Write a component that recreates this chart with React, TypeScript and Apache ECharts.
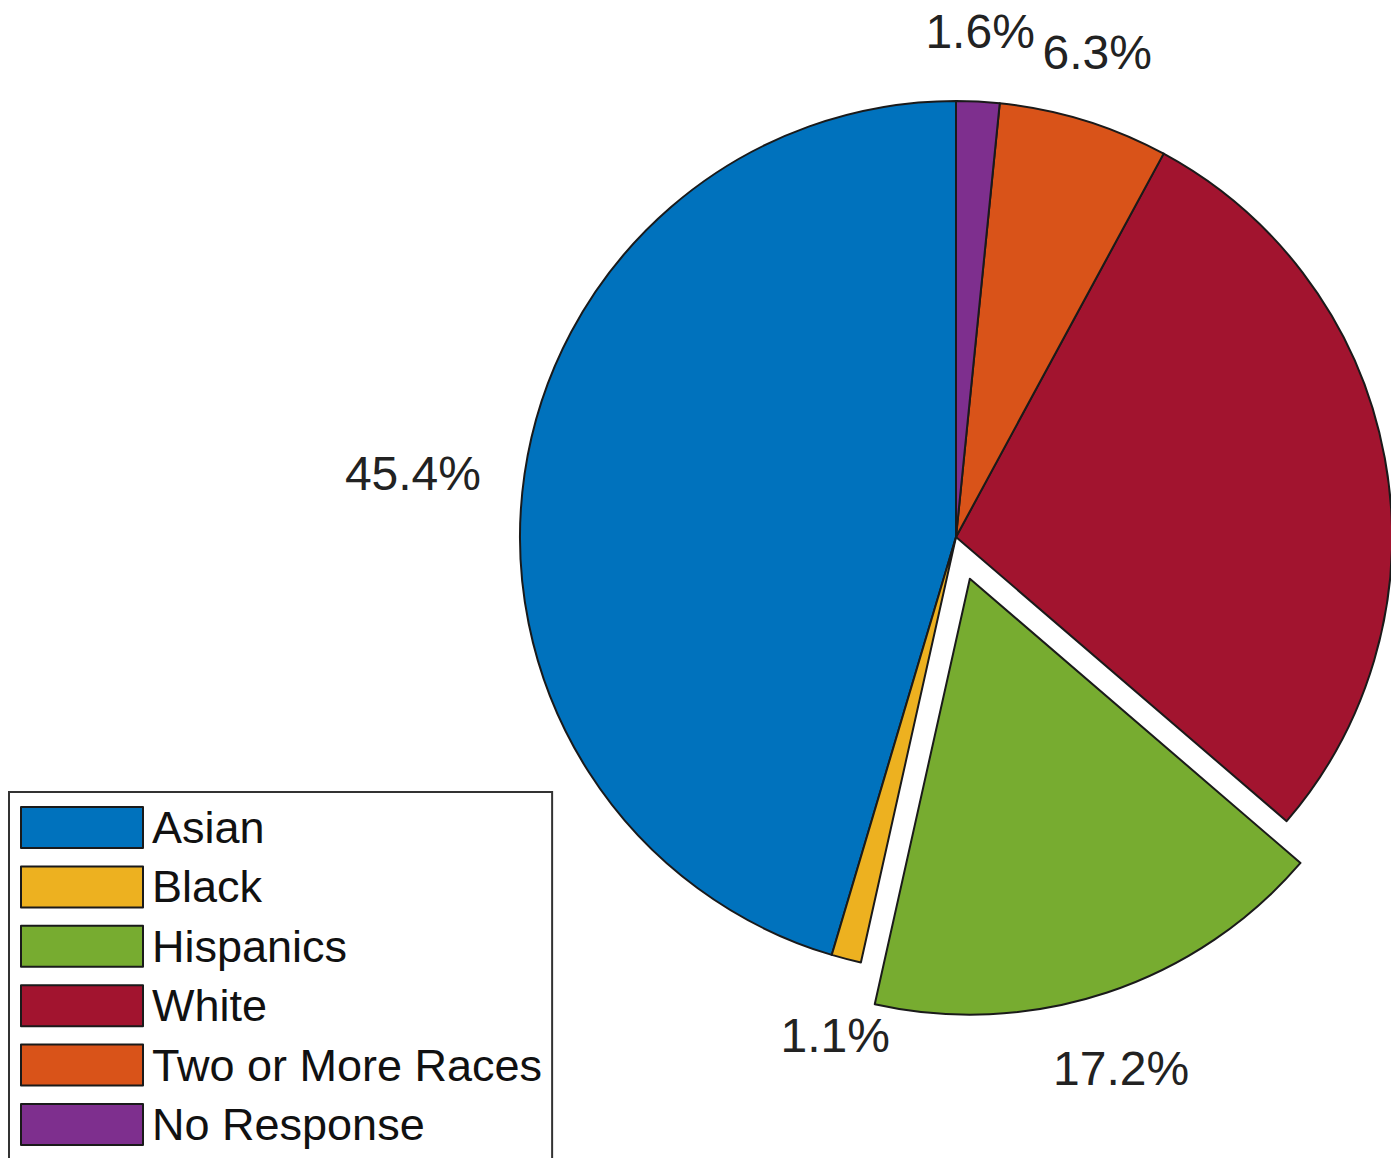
import { useEffect, useRef } from 'react';
import * as echarts from 'echarts';

const categories = ['Asian', 'Black', 'Hispanics', 'White', 'Two or More Races', 'No Response'];
const shares = [45.4, 1.1, 17.2, 28.4, 6.3, 1.6];
const sliceColors = ['#0072BD', '#EDB120', '#77AC30', '#A2142F', '#D95319', '#7E2F8E'];
const explodedSlices = ['Hispanics'];
const hiddenLabels = ['White'];

const FONT = '"Liberation Sans", Arial, Helvetica, sans-serif';
const CX = 956;
const CY = 537;
const R = 436;

export default function App() {
  const ref = useRef<HTMLDivElement>(null);

  useEffect(() => {
    if (!ref.current) return;
    const chart = echarts.init(ref.current, undefined, { renderer: 'svg' });
    const data = categories.map((name, i) => ({
      name,
      value: shares[i],
      selected: explodedSlices.includes(name),
      itemStyle: { color: sliceColors[i] },
      label: { show: !hiddenLabels.includes(name) },
    }));
    chart.setOption({
      animation: false,
      backgroundColor: '#ffffff',
      legend: {
        orient: 'vertical',
        left: 9,
        top: 792,
        data: categories,
        icon: 'rect',
        itemWidth: 122,
        itemHeight: 41,
        itemGap: 14.4,
        padding: [13, 10, 24, 11],
        borderColor: '#333333',
        borderWidth: 2,
        backgroundColor: '#ffffff',
        selectedMode: false,
        itemStyle: { borderColor: '#1a1a1a', borderWidth: 2 },
        textStyle: {
          fontFamily: FONT,
          fontSize: 45,
          lineHeight: 41,
          color: '#111111',
          padding: [0, 0, 0, 4],
        },
      },
      series: [
        {
          type: 'pie',
          center: [CX, CY],
          radius: R,
          startAngle: 90,
          clockwise: false,
          avoidLabelOverlap: false,
          selectedMode: 'single',
          selectedOffset: 44,
          emphasis: { disabled: true },
          itemStyle: { borderColor: '#1a1a1a', borderWidth: 2 },
          select: { itemStyle: { borderColor: '#1a1a1a', borderWidth: 2 } },
          label: {
            show: true,
            position: 'outside',
            formatter: '{c}%',
            fontFamily: FONT,
            fontSize: 48,
            color: '#222222',
            distanceToLabelLine: 0,
            overflow: 'none',
          },
          labelLine: { show: false, length: 44, length2: 0 },
          labelLayout: (p: any) => {
            const rect = p.labelRect;
            const ax = p.align === 'right' ? rect.x + rect.width : rect.x;
            const ay = rect.y + rect.height / 2;
            const dx = ax - CX;
            const dy = ay - CY;
            if (Math.abs(dy) > Math.abs(dx)) {
              return {
                x: ax,
                y: ay,
                align: 'center',
                verticalAlign: dy < 0 ? 'bottom' : 'top',
                dy: dy < 0 ? -2 : 10,
              };
            }
            return { dy: 6 };
          },
          data,
        },
      ],
    });
    return () => chart.dispose();
  }, []);

  return (
    <div
      style={{
        position: 'fixed',
        left: 0,
        top: 0,
        width: 1391,
        height: 1158,
        overflow: 'hidden',
        background: '#ffffff',
      }}
    >
      <div ref={ref} style={{ width: 1391, height: 1240 }} />
    </div>
  );
}
